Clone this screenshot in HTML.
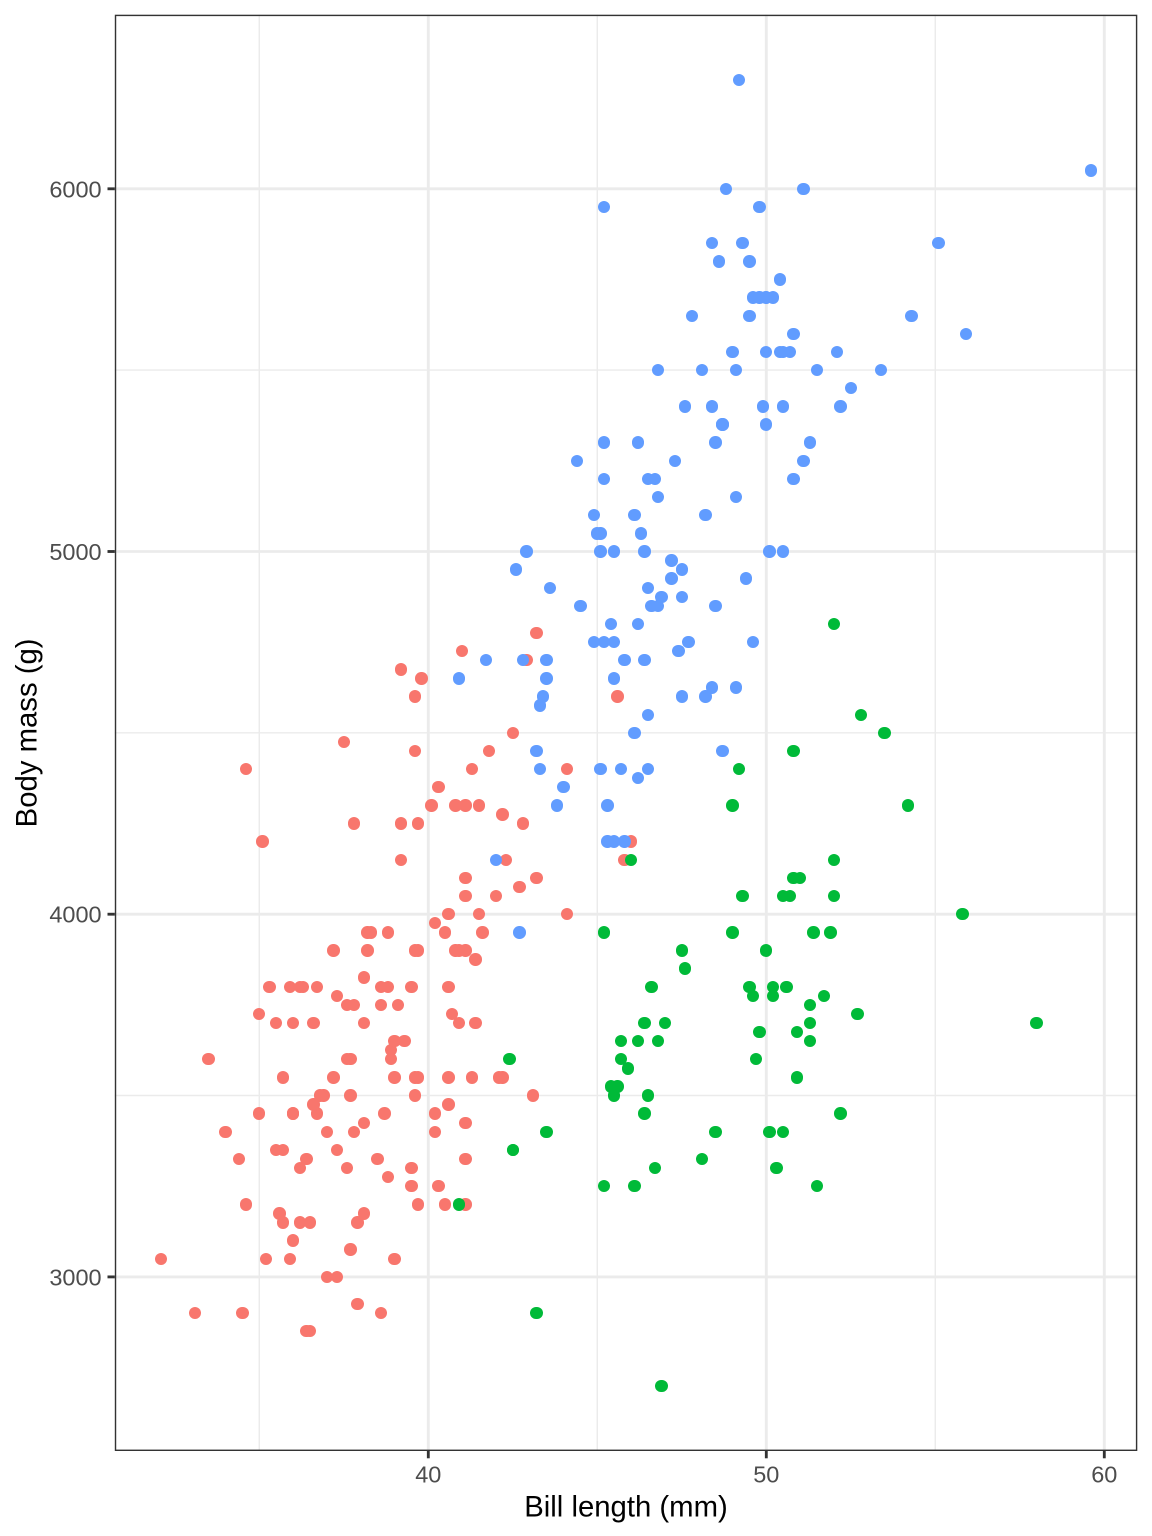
<!DOCTYPE html>
<html>
<head>
<meta charset="utf-8">
<style>
html,body{margin:0;padding:0;background:#fff;}
#c{position:relative;width:1152px;height:1536px;overflow:hidden;background:#fff;}
svg{position:absolute;left:0;top:0;}
#p{position:absolute;left:0;top:0;width:1152px;height:1536px;}
#p i{position:absolute;display:block;width:12.4px;height:12.4px;border-radius:50%;
left:calc(114.8px + (var(--x) - 30.725) * 33.8px - 6.2px);
top:calc(14.7px + (6480 - var(--y)) * 0.3627px - 6.2px);}
#p .a i{background:#F8766D;}
#p .g i{background:#619CFF;}
#p .c i{background:#00BA38;}
text{font-family:"Liberation Sans",Arial,sans-serif;}
</style>
</head>
<body>
<div id="c">
<svg width="1152" height="1536" viewBox="0 0 1152 1536">
<rect x="114.8" y="14.7" width="1022.5" height="1436.3" fill="#fff"/>
<g stroke="#EBEBEB" stroke-width="1.42">
<line x1="259.3" y1="14.7" x2="259.3" y2="1451"/>
<line x1="597.3" y1="14.7" x2="597.3" y2="1451"/>
<line x1="935.3" y1="14.7" x2="935.3" y2="1451"/>
<line x1="114.8" y1="370.1" x2="1137.3" y2="370.1"/>
<line x1="114.8" y1="732.8" x2="1137.3" y2="732.8"/>
<line x1="114.8" y1="1095.5" x2="1137.3" y2="1095.5"/>
</g>
<g stroke="#EBEBEB" stroke-width="2.84">
<line x1="428.3" y1="14.7" x2="428.3" y2="1451"/>
<line x1="766.3" y1="14.7" x2="766.3" y2="1451"/>
<line x1="1104.3" y1="14.7" x2="1104.3" y2="1451"/>
<line x1="114.8" y1="188.8" x2="1137.3" y2="188.8"/>
<line x1="114.8" y1="551.5" x2="1137.3" y2="551.5"/>
<line x1="114.8" y1="914.2" x2="1137.3" y2="914.2"/>
<line x1="114.8" y1="1276.9" x2="1137.3" y2="1276.9"/>
</g>
</svg>
<div id="p">
<div class="a">
<i style="--x:39.1;--y:3750"></i><i style="--x:39.5;--y:3800"></i><i style="--x:40.3;--y:3250"></i><i style="--x:36.7;--y:3450"></i><i style="--x:39.3;--y:3650"></i><i style="--x:38.9;--y:3625"></i><i style="--x:39.2;--y:4675"></i><i style="--x:41.1;--y:3200"></i><i style="--x:38.6;--y:3800"></i><i style="--x:34.6;--y:4400"></i>
<i style="--x:36.6;--y:3700"></i><i style="--x:38.7;--y:3450"></i><i style="--x:42.5;--y:4500"></i><i style="--x:34.4;--y:3325"></i><i style="--x:46.0;--y:4200"></i><i style="--x:37.8;--y:3400"></i><i style="--x:37.7;--y:3600"></i><i style="--x:35.9;--y:3800"></i><i style="--x:38.2;--y:3950"></i><i style="--x:38.8;--y:3800"></i>
<i style="--x:35.3;--y:3800"></i><i style="--x:40.6;--y:3550"></i><i style="--x:40.5;--y:3200"></i><i style="--x:37.9;--y:3150"></i><i style="--x:40.5;--y:3950"></i><i style="--x:39.5;--y:3250"></i><i style="--x:37.2;--y:3900"></i><i style="--x:39.5;--y:3300"></i><i style="--x:40.9;--y:3900"></i><i style="--x:36.4;--y:3325"></i>
<i style="--x:39.2;--y:4150"></i><i style="--x:38.8;--y:3950"></i><i style="--x:42.2;--y:3550"></i><i style="--x:37.6;--y:3300"></i><i style="--x:39.8;--y:4650"></i><i style="--x:36.5;--y:3150"></i><i style="--x:40.8;--y:3900"></i><i style="--x:36.0;--y:3100"></i><i style="--x:44.1;--y:4400"></i><i style="--x:37.0;--y:3000"></i>
<i style="--x:39.6;--y:4600"></i><i style="--x:41.1;--y:3425"></i><i style="--x:36.0;--y:3450"></i><i style="--x:42.3;--y:4150"></i><i style="--x:39.6;--y:3500"></i><i style="--x:40.1;--y:4300"></i><i style="--x:35.0;--y:3450"></i><i style="--x:42.0;--y:4050"></i><i style="--x:34.5;--y:2900"></i><i style="--x:41.4;--y:3700"></i>
<i style="--x:39.0;--y:3550"></i><i style="--x:40.6;--y:3800"></i><i style="--x:36.5;--y:2850"></i><i style="--x:37.6;--y:3750"></i><i style="--x:35.7;--y:3150"></i><i style="--x:41.3;--y:4400"></i><i style="--x:37.6;--y:3600"></i><i style="--x:41.1;--y:4050"></i><i style="--x:36.4;--y:2850"></i><i style="--x:41.6;--y:3950"></i>
<i style="--x:35.5;--y:3350"></i><i style="--x:41.1;--y:4100"></i><i style="--x:35.9;--y:3050"></i><i style="--x:41.8;--y:4450"></i><i style="--x:33.5;--y:3600"></i><i style="--x:39.7;--y:3900"></i><i style="--x:39.6;--y:3550"></i><i style="--x:45.8;--y:4150"></i><i style="--x:35.5;--y:3700"></i><i style="--x:42.8;--y:4250"></i>
<i style="--x:40.9;--y:3700"></i><i style="--x:37.2;--y:3550"></i><i style="--x:36.2;--y:3800"></i><i style="--x:42.1;--y:3550"></i><i style="--x:34.6;--y:3200"></i><i style="--x:42.9;--y:4700"></i><i style="--x:36.7;--y:3800"></i><i style="--x:35.1;--y:4200"></i><i style="--x:37.3;--y:3350"></i><i style="--x:41.3;--y:3550"></i>
<i style="--x:36.3;--y:3800"></i><i style="--x:36.9;--y:3500"></i><i style="--x:38.3;--y:3950"></i><i style="--x:38.9;--y:3600"></i><i style="--x:35.7;--y:3550"></i><i style="--x:41.1;--y:4300"></i><i style="--x:34.0;--y:3400"></i><i style="--x:39.6;--y:4450"></i><i style="--x:36.2;--y:3300"></i><i style="--x:40.8;--y:4300"></i>
<i style="--x:38.1;--y:3700"></i><i style="--x:40.3;--y:4350"></i><i style="--x:33.1;--y:2900"></i><i style="--x:43.2;--y:4100"></i><i style="--x:35.0;--y:3725"></i><i style="--x:41.0;--y:4725"></i><i style="--x:37.7;--y:3075"></i><i style="--x:37.8;--y:4250"></i><i style="--x:37.9;--y:2925"></i><i style="--x:39.7;--y:3550"></i>
<i style="--x:38.6;--y:3750"></i><i style="--x:38.2;--y:3900"></i><i style="--x:38.1;--y:3175"></i><i style="--x:43.2;--y:4775"></i><i style="--x:38.1;--y:3825"></i><i style="--x:45.6;--y:4600"></i><i style="--x:39.7;--y:3200"></i><i style="--x:42.2;--y:4275"></i><i style="--x:39.6;--y:3900"></i><i style="--x:42.7;--y:4075"></i>
<i style="--x:38.6;--y:2900"></i><i style="--x:37.3;--y:3775"></i><i style="--x:35.7;--y:3350"></i><i style="--x:41.1;--y:3325"></i><i style="--x:36.2;--y:3150"></i><i style="--x:37.7;--y:3500"></i><i style="--x:40.2;--y:3450"></i><i style="--x:41.4;--y:3875"></i><i style="--x:35.2;--y:3050"></i><i style="--x:40.6;--y:4000"></i>
<i style="--x:38.8;--y:3275"></i><i style="--x:41.5;--y:4300"></i><i style="--x:39.0;--y:3050"></i><i style="--x:44.1;--y:4000"></i><i style="--x:38.5;--y:3325"></i><i style="--x:43.1;--y:3500"></i><i style="--x:36.8;--y:3500"></i><i style="--x:37.5;--y:4475"></i><i style="--x:38.1;--y:3425"></i><i style="--x:41.1;--y:3900"></i>
<i style="--x:35.6;--y:3175"></i><i style="--x:40.2;--y:3975"></i><i style="--x:37.0;--y:3400"></i><i style="--x:39.7;--y:4250"></i><i style="--x:40.2;--y:3400"></i><i style="--x:40.6;--y:3475"></i><i style="--x:32.1;--y:3050"></i><i style="--x:40.7;--y:3725"></i><i style="--x:37.3;--y:3000"></i><i style="--x:39.0;--y:3650"></i>
<i style="--x:39.2;--y:4250"></i><i style="--x:36.6;--y:3475"></i><i style="--x:36.0;--y:3450"></i><i style="--x:37.8;--y:3750"></i><i style="--x:36.0;--y:3700"></i><i style="--x:41.5;--y:4000"></i>
</div>
<div class="g">
<i style="--x:46.1;--y:4500"></i><i style="--x:50.0;--y:5700"></i><i style="--x:48.7;--y:4450"></i><i style="--x:50.0;--y:5700"></i><i style="--x:47.6;--y:5400"></i><i style="--x:46.5;--y:4550"></i><i style="--x:45.4;--y:4800"></i><i style="--x:46.7;--y:5200"></i><i style="--x:43.3;--y:4400"></i><i style="--x:46.8;--y:5150"></i>
<i style="--x:40.9;--y:4650"></i><i style="--x:49.0;--y:5550"></i><i style="--x:45.5;--y:4650"></i><i style="--x:48.4;--y:5850"></i><i style="--x:45.8;--y:4200"></i><i style="--x:49.3;--y:5850"></i><i style="--x:42.0;--y:4150"></i><i style="--x:49.2;--y:6300"></i><i style="--x:46.2;--y:4800"></i><i style="--x:48.7;--y:5350"></i>
<i style="--x:50.2;--y:5700"></i><i style="--x:45.1;--y:5000"></i><i style="--x:46.5;--y:4400"></i><i style="--x:46.3;--y:5050"></i><i style="--x:42.9;--y:5000"></i><i style="--x:46.1;--y:5100"></i><i style="--x:47.8;--y:5650"></i><i style="--x:48.2;--y:4600"></i><i style="--x:50.0;--y:5550"></i><i style="--x:47.3;--y:5250"></i>
<i style="--x:42.8;--y:4700"></i><i style="--x:45.1;--y:5050"></i><i style="--x:59.6;--y:6050"></i><i style="--x:49.1;--y:5150"></i><i style="--x:48.4;--y:5400"></i><i style="--x:42.6;--y:4950"></i><i style="--x:44.4;--y:5250"></i><i style="--x:44.0;--y:4350"></i><i style="--x:48.7;--y:5350"></i><i style="--x:42.7;--y:3950"></i>
<i style="--x:49.6;--y:5700"></i><i style="--x:45.3;--y:4300"></i><i style="--x:49.6;--y:4750"></i><i style="--x:50.5;--y:5550"></i><i style="--x:43.6;--y:4900"></i><i style="--x:45.5;--y:4200"></i><i style="--x:50.5;--y:5400"></i><i style="--x:44.9;--y:5100"></i><i style="--x:45.2;--y:5300"></i><i style="--x:46.6;--y:4850"></i>
<i style="--x:48.5;--y:5300"></i><i style="--x:45.1;--y:4400"></i><i style="--x:50.1;--y:5000"></i><i style="--x:46.5;--y:4900"></i><i style="--x:45.0;--y:5050"></i><i style="--x:43.8;--y:4300"></i><i style="--x:45.5;--y:5000"></i><i style="--x:43.2;--y:4450"></i><i style="--x:50.4;--y:5550"></i><i style="--x:45.3;--y:4200"></i>
<i style="--x:46.2;--y:5300"></i><i style="--x:45.7;--y:4400"></i><i style="--x:54.3;--y:5650"></i><i style="--x:45.8;--y:4700"></i><i style="--x:49.8;--y:5700"></i><i style="--x:49.5;--y:5800"></i><i style="--x:43.5;--y:4700"></i><i style="--x:50.7;--y:5550"></i><i style="--x:47.7;--y:4750"></i><i style="--x:46.4;--y:5000"></i>
<i style="--x:48.2;--y:5100"></i><i style="--x:46.5;--y:5200"></i><i style="--x:46.4;--y:4700"></i><i style="--x:48.6;--y:5800"></i><i style="--x:47.5;--y:4600"></i><i style="--x:51.1;--y:6000"></i><i style="--x:45.2;--y:4750"></i><i style="--x:45.2;--y:5950"></i><i style="--x:49.1;--y:4625"></i><i style="--x:52.5;--y:5450"></i>
<i style="--x:47.4;--y:4725"></i><i style="--x:50.0;--y:5350"></i><i style="--x:44.9;--y:4750"></i><i style="--x:50.8;--y:5600"></i><i style="--x:43.4;--y:4600"></i><i style="--x:51.3;--y:5300"></i><i style="--x:47.5;--y:4875"></i><i style="--x:52.1;--y:5550"></i><i style="--x:47.5;--y:4950"></i><i style="--x:52.2;--y:5400"></i>
<i style="--x:45.5;--y:4750"></i><i style="--x:49.5;--y:5650"></i><i style="--x:44.5;--y:4850"></i><i style="--x:50.8;--y:5200"></i><i style="--x:49.4;--y:4925"></i><i style="--x:46.9;--y:4875"></i><i style="--x:48.4;--y:4625"></i><i style="--x:51.1;--y:5250"></i><i style="--x:48.5;--y:4850"></i><i style="--x:55.9;--y:5600"></i>
<i style="--x:47.2;--y:4975"></i><i style="--x:49.1;--y:5500"></i><i style="--x:46.8;--y:5500"></i><i style="--x:41.7;--y:4700"></i><i style="--x:53.4;--y:5500"></i><i style="--x:43.3;--y:4575"></i><i style="--x:48.1;--y:5500"></i><i style="--x:50.5;--y:5000"></i><i style="--x:49.8;--y:5950"></i><i style="--x:43.5;--y:4650"></i>
<i style="--x:51.5;--y:5500"></i><i style="--x:46.2;--y:4375"></i><i style="--x:55.1;--y:5850"></i><i style="--x:48.8;--y:6000"></i><i style="--x:47.2;--y:4925"></i><i style="--x:46.8;--y:4850"></i><i style="--x:50.4;--y:5750"></i><i style="--x:45.2;--y:5200"></i><i style="--x:49.9;--y:5400"></i>
</div>
<div class="c">
<i style="--x:46.5;--y:3500"></i><i style="--x:50.0;--y:3900"></i><i style="--x:51.3;--y:3650"></i><i style="--x:45.4;--y:3525"></i><i style="--x:52.7;--y:3725"></i><i style="--x:45.2;--y:3950"></i><i style="--x:46.1;--y:3250"></i><i style="--x:51.3;--y:3750"></i><i style="--x:46.0;--y:4150"></i><i style="--x:51.3;--y:3700"></i>
<i style="--x:46.6;--y:3800"></i><i style="--x:51.7;--y:3775"></i><i style="--x:47.0;--y:3700"></i><i style="--x:52.0;--y:4050"></i><i style="--x:45.9;--y:3575"></i><i style="--x:50.5;--y:4050"></i><i style="--x:50.3;--y:3300"></i><i style="--x:58.0;--y:3700"></i><i style="--x:46.4;--y:3450"></i><i style="--x:49.2;--y:4400"></i>
<i style="--x:42.4;--y:3600"></i><i style="--x:48.5;--y:3400"></i><i style="--x:43.2;--y:2900"></i><i style="--x:50.6;--y:3800"></i><i style="--x:46.7;--y:3300"></i><i style="--x:52.0;--y:4150"></i><i style="--x:50.5;--y:3400"></i><i style="--x:49.5;--y:3800"></i><i style="--x:46.4;--y:3700"></i><i style="--x:52.8;--y:4550"></i>
<i style="--x:40.9;--y:3200"></i><i style="--x:54.2;--y:4300"></i><i style="--x:42.5;--y:3350"></i><i style="--x:51.0;--y:4100"></i><i style="--x:49.7;--y:3600"></i><i style="--x:47.5;--y:3900"></i><i style="--x:47.6;--y:3850"></i><i style="--x:52.0;--y:4800"></i><i style="--x:46.9;--y:2700"></i><i style="--x:53.5;--y:4500"></i>
<i style="--x:49.0;--y:3950"></i><i style="--x:46.2;--y:3650"></i><i style="--x:50.9;--y:3550"></i><i style="--x:45.5;--y:3500"></i><i style="--x:50.9;--y:3675"></i><i style="--x:50.8;--y:4450"></i><i style="--x:50.1;--y:3400"></i><i style="--x:49.0;--y:4300"></i><i style="--x:51.5;--y:3250"></i><i style="--x:49.8;--y:3675"></i>
<i style="--x:48.1;--y:3325"></i><i style="--x:51.4;--y:3950"></i><i style="--x:45.7;--y:3600"></i><i style="--x:50.7;--y:4050"></i><i style="--x:42.5;--y:3350"></i><i style="--x:52.2;--y:3450"></i><i style="--x:45.2;--y:3250"></i><i style="--x:49.3;--y:4050"></i><i style="--x:50.2;--y:3800"></i><i style="--x:45.6;--y:3525"></i>
<i style="--x:51.9;--y:3950"></i><i style="--x:46.8;--y:3650"></i><i style="--x:45.7;--y:3650"></i><i style="--x:55.8;--y:4000"></i><i style="--x:43.5;--y:3400"></i><i style="--x:49.6;--y:3775"></i><i style="--x:50.8;--y:4100"></i><i style="--x:50.2;--y:3775"></i>
</div>
</div>
<svg width="1152" height="1536" viewBox="0 0 1152 1536">
<rect x="115.51" y="15.41" width="1021.08" height="1434.88" fill="none" stroke="#333333" stroke-width="1.42"/>
<g stroke="#333333" stroke-width="2.84">
<line x1="107.5" y1="188.8" x2="114.8" y2="188.8"/>
<line x1="107.5" y1="551.5" x2="114.8" y2="551.5"/>
<line x1="107.5" y1="914.2" x2="114.8" y2="914.2"/>
<line x1="107.5" y1="1276.9" x2="114.8" y2="1276.9"/>
<line x1="428.3" y1="1451" x2="428.3" y2="1458.3"/>
<line x1="766.3" y1="1451" x2="766.3" y2="1458.3"/>
<line x1="1104.3" y1="1451" x2="1104.3" y2="1458.3"/>
</g>
<g font-size="23.5" fill="#4D4D4D" text-anchor="end">
<text x="101.6" y="197.3">6000</text>
<text x="101.6" y="560.0">5000</text>
<text x="101.6" y="922.7">4000</text>
<text x="101.6" y="1285.4">3000</text>
</g>
<g font-size="23.5" fill="#4D4D4D" text-anchor="middle">
<text x="428.3" y="1482.7">40</text>
<text x="766.3" y="1482.7">50</text>
<text x="1104.3" y="1482.7">60</text>
</g>
<text x="626" y="1516.7" font-size="29.3" fill="#000" text-anchor="middle">Bill length (mm)</text>
<text x="36.7" y="732.9" font-size="29.3" fill="#000" text-anchor="middle" transform="rotate(-90 36.7 732.9)">Body mass (g)</text>
</svg>
</div>
</body>
</html>
